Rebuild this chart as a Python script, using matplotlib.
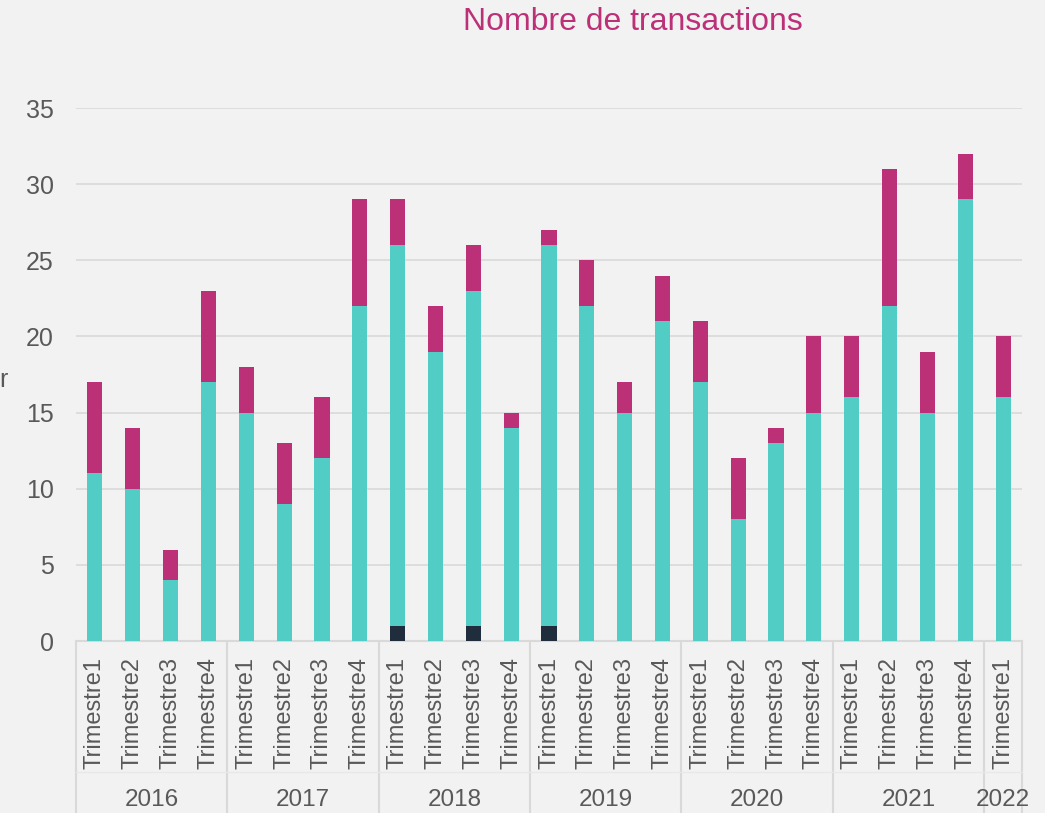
import numpy as np
import matplotlib.pyplot as plt
from matplotlib.transforms import blended_transform_factory

plt.rcParams['font.family'] = ['Liberation Sans', 'DejaVu Sans']

years = ['2016', '2017', '2018', '2019', '2020', '2021', '2022']
quarters_per_year = [4, 4, 4, 4, 4, 4, 1]
quarter_labels = ['Trimestre1', 'Trimestre2', 'Trimestre3', 'Trimestre4'] * 6 + ['Trimestre1']

dark = [0, 0, 0, 0, 0, 0, 0, 0, 1, 0, 1, 0, 1, 0, 0, 0, 0, 0, 0, 0, 0, 0, 0, 0, 0]
teal = [11, 10, 4, 17, 15, 9, 12, 22, 25, 19, 22, 14, 25, 22, 15, 21, 17, 8, 13, 15, 16, 22, 15, 29, 16]
magenta = [6, 4, 2, 6, 3, 4, 4, 7, 3, 3, 3, 1, 1, 3, 2, 3, 4, 4, 1, 5, 4, 9, 4, 3, 4]

bg = '#f2f2f2'
c_dark = '#1f2d3d'
c_teal = '#52cdc5'
c_mag = '#bc3078'
txt = '#595959'
grid = '#d9d9d9'

W, H = 1045, 813
fig = plt.figure(figsize=(W / 100, H / 100), dpi=100, facecolor=bg)
left, right, bottom, top = 76, 1022, 641, 108
ax = fig.add_axes([left / W, 1 - bottom / H, (right - left) / W, (bottom - top) / H])
ax.set_facecolor(bg)

x = np.arange(len(teal))
d = np.array(dark)
t = np.array(teal)
m = np.array(magenta)
bw = 0.4
ax.bar(x, d, bw, color=c_dark, zorder=3)
ax.bar(x, t, bw, bottom=d, color=c_teal, zorder=3)
ax.bar(x, m, bw, bottom=d + t, color=c_mag, zorder=3)

ax.set_xlim(-0.5, len(teal) - 0.5)
ax.set_ylim(0, 35)
ax.set_yticks(range(0, 36, 5))
ax.yaxis.grid(True, color=grid, linewidth=1.2, zorder=0)
ax.tick_params(axis='y', length=0, pad=16, labelsize=18, labelcolor=txt)
ax.set_xticks([])
for s in ['top', 'right', 'left']:
    ax.spines[s].set_visible(False)
ax.spines['bottom'].set_color(grid)
ax.spines['bottom'].set_linewidth(1.5)

# two-level category axis
trans = blended_transform_factory(ax.transData, ax.transAxes)
for i, lab in enumerate(quarter_labels):
    ax.text(i, -0.03, lab, transform=trans, rotation=90, ha='center', va='top',
            fontsize=17, color=txt, clip_on=False)

bounds = np.concatenate([[0], np.cumsum(quarters_per_year)]) - 0.5
for b in bounds:
    ax.plot([b, b], [0, -0.35], transform=trans, color=grid, linewidth=1.5, clip_on=False)
for i, y in enumerate(years):
    ax.text((bounds[i] + bounds[i + 1]) / 2, -0.298, y, transform=trans, ha='center',
            va='center', fontsize=17.5, color=txt, clip_on=False)
ax.plot([-0.5, len(teal) - 0.5], [-0.245, -0.245], transform=trans, color='#e8e8e8',
        linewidth=1, clip_on=False)

fig.text(633 / W, 1 - 22 / H, 'Nombre de transactions', ha='center', va='center',
         fontsize=23, color=c_mag)
fig.text(8 / W, 1 - 380 / H, 'r', ha='right', va='center', fontsize=18, color=txt)

fig.savefig('out.png', dpi=100, facecolor=bg)
